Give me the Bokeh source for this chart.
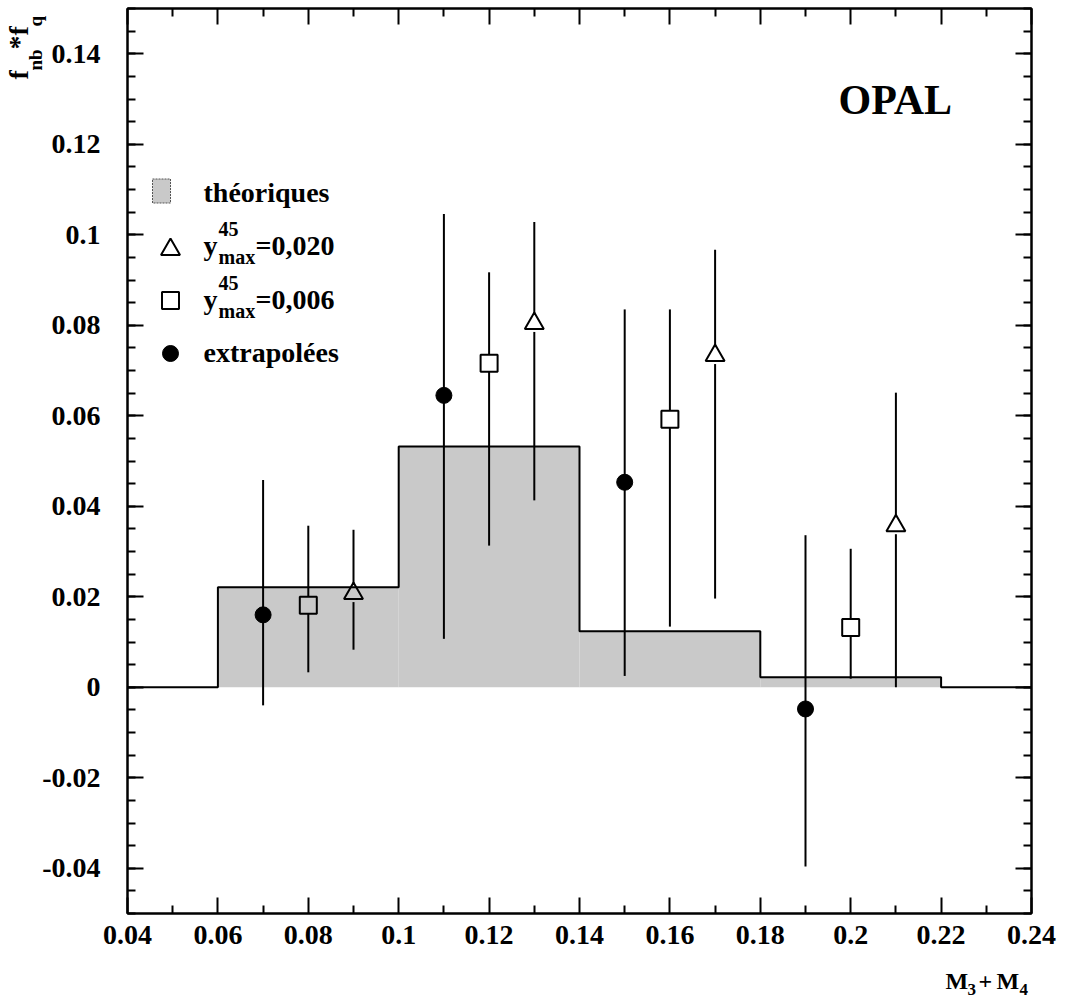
import math
from bokeh.plotting import figure
from bokeh.models import Range1d, LinearAxis, FixedTicker, CustomJSTickFormatter, Label
from bokeh.core.properties import value
from bokeh.embed import file_html
from bokeh.resources import INLINE

# ---- data -------------------------------------------------------------
# theoretical prediction, histogrammed in M3+M4
bin_edges = [0.06, 0.10, 0.14, 0.18, 0.22]
theory = [0.0221, 0.0532, 0.0124, 0.0022]

# y45max = 0,020 (open triangles)
tri_x = [0.09, 0.13, 0.17, 0.21]
tri_y = [0.0207, 0.0804, 0.0733, 0.0357]
tri_lo = [0.0083, 0.0413, 0.0196, 0.0]
tri_hi = [0.0348, 0.1028, 0.0967, 0.0651]

# y45max = 0,006 (open squares)
sq_x = [0.08, 0.12, 0.16, 0.20]
sq_y = [0.0181, 0.0716, 0.0592, 0.0132]
sq_lo = [0.0033, 0.0313, 0.0134, 0.0019]
sq_hi = [0.0357, 0.0917, 0.0835, 0.0306]

# extrapolated values (filled circles)
ex_x = [0.07, 0.11, 0.15, 0.19]
ex_y = [0.0160, 0.0645, 0.0453, -0.0048]
ex_lo = [-0.0040, 0.0107, 0.0025, -0.0396]
ex_hi = [0.0458, 0.1046, 0.0835, 0.0336]

x_ticks = [0.04, 0.06, 0.08, 0.10, 0.12, 0.14, 0.16, 0.18, 0.20, 0.22, 0.24]
x_minor = [0.05, 0.07, 0.09, 0.11, 0.13, 0.15, 0.17, 0.19, 0.21, 0.23]
y_ticks = [-0.04, -0.02, 0.0, 0.02, 0.04, 0.06, 0.08, 0.10, 0.12, 0.14]
y_minor = [round(-0.05 + 0.005 * i, 3) for i in range(41)]

X0, X1 = 0.04, 0.24
Y0, Y1 = -0.05, 0.15

# ---- canvas geometry --------------------------------------------------
W, H = 1067, 999
L, R, T, B = 127, 36, 8, 86
FW, FH = W - L - R, H - T - B
FONT = "Liberation Serif"
GRAY = "#c9c9c9"


def dx(px):
    return X0 + (px - L) * (X1 - X0) / FW


def dy(py):
    return Y1 - (py - T) * (Y1 - Y0) / FH


p = figure(width=W, height=H, x_range=Range1d(X0, X1), y_range=Range1d(Y0, Y1),
           output_backend="svg", toolbar_location=None,
           min_border_left=L, min_border_right=R, min_border_top=T, min_border_bottom=B)
p.grid.visible = False
p.outline_line_color = "black"
p.outline_line_width = 2
p.background_fill_color = "white"
p.border_fill_color = "white"

fmt = CustomJSTickFormatter(code="return String(Math.round(tick*1000)/1000);")
blank = CustomJSTickFormatter(code="return '';")


def style_axis(ax, ticks, minor, labels):
    ax.ticker = FixedTicker(ticks=ticks, minor_ticks=minor)
    ax.axis_line_width = 2
    ax.major_tick_line_width = 2
    ax.minor_tick_line_width = 2
    ax.major_tick_in = 16
    ax.major_tick_out = 0
    ax.minor_tick_in = 8
    ax.minor_tick_out = 0
    ax.major_label_text_font = FONT
    ax.major_label_text_font_style = "bold"
    ax.major_label_text_font_size = "28px"
    ax.major_label_text_color = "black"
    if labels:
        ax.formatter = fmt
    else:
        ax.formatter = blank
        ax.major_label_standoff = 0


style_axis(p.xaxis[0], x_ticks, x_minor, True)
p.xaxis[0].major_label_standoff = 12
style_axis(p.yaxis[0], y_ticks, y_minor, True)
p.yaxis[0].major_label_standoff = 27

top = LinearAxis()
style_axis(top, x_ticks, x_minor, False)
p.add_layout(top, "above")
right = LinearAxis()
style_axis(right, y_ticks, y_minor, False)
p.add_layout(right, "right")

# ---- theoretical histogram -------------------------------------------
p.quad(left=bin_edges[:-1], right=bin_edges[1:], top=theory, bottom=0,
       fill_color=GRAY, line_color=None)
step_x, step_y = [X0, bin_edges[0]], [0, 0]
for i, t in enumerate(theory):
    step_x += [bin_edges[i], bin_edges[i + 1]]
    step_y += [t, t]
step_x += [bin_edges[-1], X1]
step_y += [0, 0]
p.line(step_x, step_y, line_color="black", line_width=2)

# ---- measurements -----------------------------------------------------
MS = 17
gap = (MS / 2) * (Y1 - Y0) / FH


def error_bars(xs, ys, lo, hi, hollow):
    g = gap if hollow else 0.0
    p.segment(x0=xs, y0=lo, x1=xs, y1=[y - g for y in ys], line_color="black", line_width=2)
    p.segment(x0=xs, y0=[y + g for y in ys], x1=xs, y1=hi, line_color="black", line_width=2)


error_bars(ex_x, ex_y, ex_lo, ex_hi, False)
error_bars(sq_x, sq_y, sq_lo, sq_hi, True)
error_bars(tri_x, tri_y, tri_lo, tri_hi, True)

p.scatter(ex_x, ex_y, marker="circle", size=16, fill_color="black", line_color="black")
p.scatter(sq_x, sq_y, marker="square", size=MS, fill_color=None, line_color="black", line_width=2)
p.scatter(tri_x, tri_y, marker="triangle", size=MS + 2, fill_color=None, line_color="black",
          line_width=2)


# ---- text helpers ----------------------------------------------------
# (px, py) is the wanted baseline start in canvas pixels; the offset
# compensates for where the renderer places the alphabetic baseline.
def txt(px, py, s, size):
    p.add_layout(Label(x=dx(px), y=dy(py - 0.32 * size), text=s, text_font=FONT,
                       text_font_style="bold", text_font_size=f"{size}px",
                       text_color="black", text_align="left", text_baseline="alphabetic"))


def outer_txt(px, py, s, size, vertical=False):
    # text glyph drawn above the frame level so it can sit in the margins
    off = 0.55 * size
    if vertical:
        x, y, ang = dx(px - off), dy(py), math.pi / 2
    else:
        x, y, ang = dx(px), dy(py - off), 0.0
    p.text(x=[x], y=[y], text=[s], angle=ang, text_font=value(FONT),
           text_font_style="bold", text_font_size=f"{size}px", text_color="black",
           text_align="left", text_baseline="alphabetic", level="overlay")


# ---- legend ------------------------------------------------------------
p.rect(x=[dx(161)], y=[dy(190.5)], width=18, height=24, width_units="screen",
       height_units="screen", fill_color=GRAY, line_color="#555555", line_width=1,
       line_dash="2 1")
txt(203, 201, "théoriques", 28)

p.scatter([dx(170)], [dy(249)], marker="triangle", size=MS + 2, fill_color=None,
          line_color="black", line_width=2)
txt(203, 254, "y", 28)
txt(218, 235, "45", 20)
txt(218, 263, "max", 20)
txt(255, 254, "=0,020", 28)

p.scatter([dx(170)], [dy(300)], marker="square", size=MS, fill_color=None,
          line_color="black", line_width=2)
txt(203, 308, "y", 28)
txt(218, 289, "45", 20)
txt(218, 317, "max", 20)
txt(255, 308, "=0,006", 28)

p.scatter([dx(170)], [dy(353)], marker="circle", size=16, fill_color="black",
          line_color="black")
txt(203, 361, "extrapolées", 28)

txt(838, 113, "OPAL", 42)

# ---- axis titles in the margins -------------------------------------------
outer_txt(33, 79, "f", 28, vertical=True)
outer_txt(45, 70, "nb", 19, vertical=True)
outer_txt(33, 49, "*", 28, vertical=True)
outer_txt(33, 35, "f", 28, vertical=True)
outer_txt(45, 26, "q", 19, vertical=True)

outer_txt(945, 994, "M", 24)
outer_txt(967, 998, "3", 17)
outer_txt(978, 994, "+", 24)
outer_txt(996, 994, "M", 24)
outer_txt(1019, 998, "4", 17)

open("out.html", "w").write(file_html(p, INLINE))
